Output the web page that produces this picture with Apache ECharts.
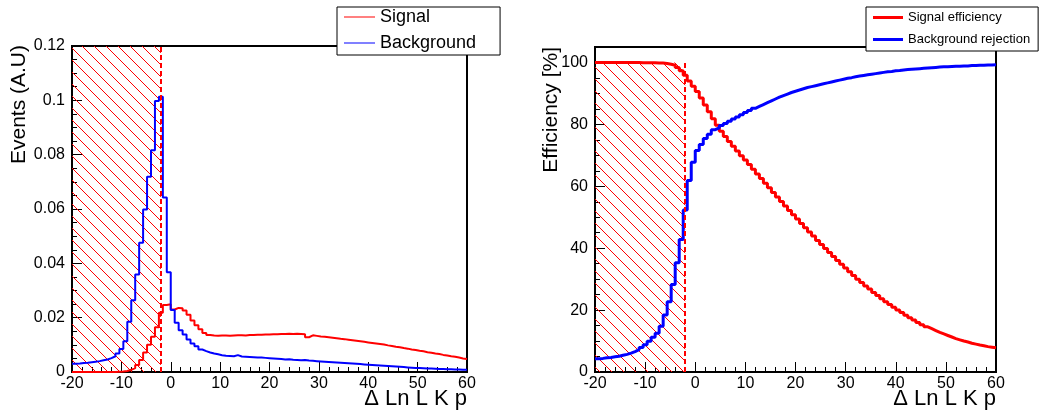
<!DOCTYPE html>
<html><head><meta charset="utf-8">
<script src="https://cdn.jsdelivr.net/npm/echarts@6/dist/echarts.min.js"></script>
<style>html,body{margin:0;padding:0;background:#fff}#c{width:1042px;height:412px}</style>
</head><body><div id="c"></div>
<script>
// ---- binning / axes ----
const X_MIN = -20, X_MAX = 60, BIN_WIDTH = 0.8;
const CUT = -2;                       // dashed cut line and end of hatched region
const xTickLabels = ['-20','-10','0','10','20','30','40','50','60'];
const leftYTickLabels = ['0','0.02','0.04','0.06','0.08','0.1','0.12'];
const rightYTickLabels = ['0','20','40','60','80','100'];

// ---- left panel: normalised distributions (100 bins of 0.8) ----
const signalHist = [
0,0,0,0,0,0,0,0,0,0,
0,0.0001,0.0002,0.0004,0.0008,0.0014,0.0026,0.0044,0.0072,0.0100,
0.0130,0.0165,0.0218,0.0247,0.0249,0.0230,0.0236,0.0235,0.0226,0.0211,
0.0190,0.0172,0.0157,0.0144,0.0136,0.0134,0.0133,0.0134,0.0134,0.0133,
0.0134,0.0135,0.0135,0.0134,0.0136,0.0136,0.0137,0.0137,0.0138,0.0138,
0.0139,0.0139,0.0140,0.0140,0.0141,0.0140,0.0141,0.0140,0.0139,0.0128,
0.0135,0.0133,0.0131,0.0130,0.0128,0.0126,0.0124,0.0122,0.0121,0.0119,
0.0117,0.0115,0.0113,0.0111,0.0109,0.0107,0.0105,0.0103,0.0101,0.0098,
0.0096,0.0093,0.0091,0.0088,0.0086,0.0083,0.0081,0.0078,0.0076,0.0073,
0.0071,0.0068,0.0066,0.0063,0.0061,0.0058,0.0056,0.0053,0.0050,0.0048];
const backgroundHist = [
0.0030,0.0031,0.0033,0.0034,0.0036,0.0038,0.0040,0.0043,0.0046,0.0051,
0.0058,0.0068,0.0085,0.0113,0.0185,0.0264,0.0359,0.0476,0.0598,0.0719,
0.0816,0.0998,0.1013,0.0642,0.0367,0.0228,0.0181,0.0154,0.0138,0.0120,
0.0105,0.0095,0.0083,0.0077,0.0072,0.0068,0.0065,0.0062,0.0060,0.0059,
0.0058,0.0062,0.0057,0.0056,0.0055,0.0054,0.0053,0.0053,0.0052,0.0051,
0.0050,0.0049,0.0048,0.0046,0.0047,0.0045,0.0044,0.0043,0.0044,0.0042,
0.0041,0.0040,0.0039,0.0038,0.0037,0.0036,0.0035,0.0034,0.0033,0.0032,
0.0031,0.0030,0.0029,0.0028,0.0027,0.0026,0.0025,0.0024,0.0023,0.0022,
0.0021,0.0020,0.0019,0.0018,0.0017,0.0016,0.0015,0.0015,0.0014,0.0013,
0.0013,0.0012,0.0011,0.0011,0.0010,0.0010,0.0009,0.0009,0.0008,0.0008];

// ---- right panel: efficiencies in % (100 bins of 0.8) ----
const signalEff = [
100,100,100,100,100,100,100,100,100,100,
100,99.95,99.95,99.93,99.9,99.85,99.8,99.7,99.45,99.1,
98.4,97.3,95.9,94.0,92.3,90.6,88.5,86.3,84.1,81.8,
79.7,77.8,76.1,74.5,72.9,71.4,69.9,68.5,67.0,65.5,
64.0,62.5,61.0,59.5,58.0,56.5,55.1,53.6,52.2,50.8,
49.4,48.0,46.6,45.2,43.9,42.5,41.2,39.9,38.6,37.3,
36.0,34.8,33.6,32.4,31.2,30.0,28.9,27.8,26.8,25.7,
24.7,23.7,22.7,21.8,20.9,20.0,19.2,18.3,17.5,16.8,
16.0,15.3,14.6,14.0,13.4,12.8,12.3,11.8,11.3,10.8,
10.4,10.0,9.7,9.3,9.0,8.7,8.5,8.2,8.0,7.8];
const backgroundRej = [
4.3,4.4,4.6,4.7,4.9,5.1,5.4,5.7,6.1,6.6,
7.2,7.9,8.8,9.9,11.2,12.5,14.8,18.4,22.7,28.3,
35.3,42.8,52.3,61.9,67.8,71.6,73.5,75.4,76.8,78.3,
78.9,79.6,80.3,81.0,81.7,82.4,83.1,83.8,84.5,85.2,
85.8,86.4,87.0,87.6,88.2,88.8,89.3,89.8,90.3,90.7,
91.1,91.5,91.9,92.2,92.5,92.8,93.1,93.4,93.7,94.0,
94.3,94.6,94.9,95.1,95.4,95.6,95.8,96.0,96.2,96.4,
96.6,96.8,97.0,97.1,97.3,97.4,97.6,97.7,97.8,97.9,
98.0,98.1,98.2,98.3,98.4,98.5,98.6,98.6,98.7,98.8,
98.8,98.9,98.9,99.0,99.0,99.1,99.1,99.2,99.2,99.3];

// histogram outline: left edge of each bin + closing point at X_MAX
function histPoints(vals) {
  const pts = vals.map((v, i) => [+(X_MIN + i * BIN_WIDTH).toFixed(3), v]);
  pts.push([X_MAX, vals[vals.length - 1]]);
  return pts;
}

function hatchPattern() {
  const c = document.createElement('canvas');
  c.width = 12; c.height = 12;
  const g = c.getContext('2d');
  g.strokeStyle = '#ff0000'; g.lineWidth = 1;
  g.beginPath();
  g.moveTo(-2, -2); g.lineTo(14, 14);
  g.moveTo(10, -2); g.lineTo(14, 2);
  g.moveTo(-2, 10); g.lineTo(2, 14);
  g.stroke();
  return c;
}
const hatchFill = { image: hatchPattern(), repeat: 'repeat' };

const FONT = "'Liberation Sans', Arial, Helvetica, sans-serif";
const RED = '#ff0000', BLUE = '#0000ff';

function xAxisCfg(gridIndex) {
  return {
    type: 'value', gridIndex, min: X_MIN, max: X_MAX, interval: 10,
    axisLine: { show: true, onZero: false, lineStyle: { color: '#000', width: 2 } },
    axisTick: { show: true, inside: true, length: 10, lineStyle: { color: '#000', width: 1 } },
    minorTick: { show: true, splitNumber: 5, length: 5, lineStyle: { color: '#000', width: 1 } },
    splitLine: { show: false },
    axisLabel: { color: '#000', fontSize: 16, fontFamily: FONT, margin: 4,
      formatter: v => xTickLabels.includes(String(v)) ? String(v) : '' }
  };
}

const option = {
  animation: false,
  backgroundColor: '#fff',
  grid: [
    { left: 72, top: 46, width: 395, height: 326, show: true, borderColor: '#000', borderWidth: 2, backgroundColor: 'transparent' },
    { left: 595, top: 47, width: 401, height: 325, show: true, borderColor: '#000', borderWidth: 2, backgroundColor: 'transparent' }
  ],
  xAxis: [xAxisCfg(0), xAxisCfg(1)],
  yAxis: [
    { type: 'value', gridIndex: 0, min: 0, max: 0.12, interval: 0.02,
      axisLine: { show: true, onZero: false, lineStyle: { color: '#000', width: 2 } },
      axisTick: { show: true, inside: true, length: 10, lineStyle: { color: '#000', width: 1 } },
      minorTick: { show: true, splitNumber: 4, length: 5, lineStyle: { color: '#000', width: 1 } },
      splitLine: { show: false },
      axisLabel: { color: '#000', fontSize: 16, fontFamily: FONT, margin: 7,
        formatter: v => { const s = String(+v.toFixed(3)); return leftYTickLabels.includes(s) ? s : ''; } } },
    { type: 'value', gridIndex: 1, min: 0, max: 105, interval: 20,
      axisLine: { show: true, onZero: false, lineStyle: { color: '#000', width: 2 } },
      axisTick: { show: true, inside: true, length: 10, lineStyle: { color: '#000', width: 1 } },
      minorTick: { show: true, splitNumber: 4, length: 5, lineStyle: { color: '#000', width: 1 } },
      splitLine: { show: false },
      axisLabel: { color: '#000', fontSize: 16, fontFamily: FONT, margin: 7,
        formatter: v => rightYTickLabels.includes(String(v)) ? String(v) : '' } }
  ],
  legend: [
    { data: ['Signal', 'Background'], orient: 'vertical', left: 337, top: 7,
      padding: [1, 24, 3, 7], itemWidth: 31, itemHeight: 1, itemGap: 8, icon: 'rect',
      backgroundColor: '#fff', borderColor: '#000', borderWidth: 1, selectedMode: false, z: 10,
      textStyle: { color: '#000', fontSize: 18, fontFamily: FONT } },
    { data: ['Signal efficiency', 'Background rejection'], orient: 'vertical', left: 866, top: 7,
      padding: [4, 8, 5, 7], itemWidth: 30, itemHeight: 3, itemGap: 9, icon: 'rect',
      backgroundColor: '#fff', borderColor: '#000', borderWidth: 1, selectedMode: false, z: 10,
      textStyle: { color: '#000', fontSize: 13, fontFamily: FONT } }
  ],
  graphic: [
    { type: 'text', x: 19, y: 45, rotation: Math.PI / 2, z: 10,
      style: { text: 'Events (A.U)', font: '21px ' + FONT, fill: '#000', align: 'right', verticalAlign: 'middle' } },
    { type: 'text', x: 551, y: 47, rotation: Math.PI / 2, z: 10,
      style: { text: 'Efficiency [%]', font: '21px ' + FONT, fill: '#000', align: 'right', verticalAlign: 'middle' } },
    { type: 'text', x: 467, y: 399, z: 10,
      style: { text: 'Δ Ln L K p', font: '22px ' + FONT, fill: '#000', align: 'right', verticalAlign: 'middle' } },
    { type: 'text', x: 996, y: 399, z: 10,
      style: { text: 'Δ Ln L K p', font: '22px ' + FONT, fill: '#000', align: 'right', verticalAlign: 'middle' } }
  ],
  series: [
    // hatched rejected region + cut line, left panel
    { type: 'line', name: 'cutL', xAxisIndex: 0, yAxisIndex: 0, data: [[X_MIN, 0]], symbol: 'none',
      lineStyle: { width: 0, opacity: 0 }, z: 1, silent: true,
      markArea: { silent: true, itemStyle: { color: hatchFill, opacity: 1, borderWidth: 0 },
        data: [[{ coord: [X_MIN, 0] }, { coord: [CUT, 0.12] }]] } },
    { type: 'line', name: 'Signal', xAxisIndex: 0, yAxisIndex: 0, step: 'end', symbol: 'none',
      data: histPoints(signalHist), color: RED, lineStyle: { color: RED, width: 2 }, z: 3 },
    { type: 'line', name: 'Background', xAxisIndex: 0, yAxisIndex: 0, step: 'end', symbol: 'none',
      data: histPoints(backgroundHist), color: BLUE, lineStyle: { color: BLUE, width: 2 }, z: 3 },
    { type: 'line', name: 'cutLineL', xAxisIndex: 0, yAxisIndex: 0, data: [[X_MIN, 0]], symbol: 'none',
      lineStyle: { width: 0, opacity: 0 }, z: 5, silent: true,
      markLine: { silent: true, symbol: ['none', 'none'], label: { show: false },
        lineStyle: { color: RED, width: 2, type: [5, 3] },
        data: [[{ coord: [CUT, 0] }, { coord: [CUT, 0.12] }]] } },
    // right panel
    { type: 'line', name: 'cutR', xAxisIndex: 1, yAxisIndex: 1, data: [[X_MIN, 0]], symbol: 'none',
      lineStyle: { width: 0, opacity: 0 }, z: 1, silent: true,
      markArea: { silent: true, itemStyle: { color: hatchFill, opacity: 1, borderWidth: 0 },
        data: [[{ coord: [X_MIN, 0] }, { coord: [CUT, 100] }]] } },
    { type: 'line', name: 'Signal efficiency', xAxisIndex: 1, yAxisIndex: 1, step: 'end', symbol: 'none',
      data: histPoints(signalEff), color: RED, lineStyle: { color: RED, width: 3 }, z: 3 },
    { type: 'line', name: 'Background rejection', xAxisIndex: 1, yAxisIndex: 1, step: 'end', symbol: 'none',
      data: histPoints(backgroundRej), color: BLUE, lineStyle: { color: BLUE, width: 3 }, z: 3 },
    { type: 'line', name: 'cutLineR', xAxisIndex: 1, yAxisIndex: 1, data: [[X_MIN, 0]], symbol: 'none',
      lineStyle: { width: 0, opacity: 0 }, z: 5, silent: true,
      markLine: { silent: true, symbol: ['none', 'none'], label: { show: false },
        lineStyle: { color: RED, width: 2, type: [5, 3] },
        data: [[{ coord: [CUT, 0] }, { coord: [CUT, 100] }]] } }
  ]
};
const chart = echarts.init(document.getElementById('c'), null, { renderer: 'canvas' });
chart.setOption(option);
</script>
</body></html>
